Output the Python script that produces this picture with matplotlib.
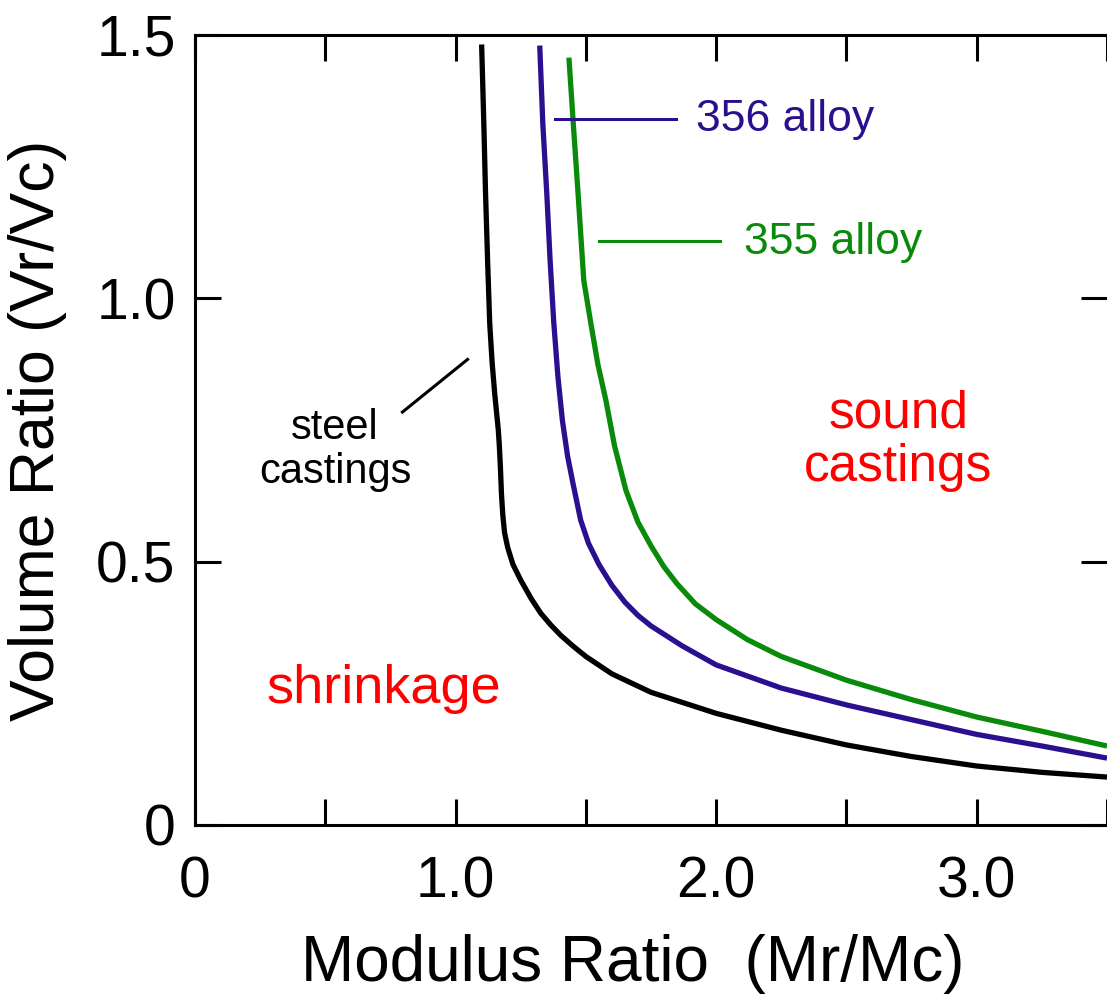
import matplotlib
matplotlib.use('Agg')
import matplotlib.pyplot as plt
from matplotlib.ticker import MultipleLocator, FixedLocator

plt.rcParams['font.family'] = ['Liberation Sans', 'DejaVu Sans']

# curve data
steel_x = [1.100, 1.108, 1.115, 1.123, 1.131, 1.140, 1.150, 1.158, 1.164, 1.168, 1.172,
           1.176, 1.181, 1.188, 1.200, 1.22, 1.25, 1.29, 1.327, 1.365, 1.404, 1.45,
           1.5, 1.6, 1.75, 2.0, 2.25, 2.5, 2.75, 3.0, 3.25, 3.5]
steel_y = [1.482, 1.34, 1.20, 1.07, 0.953, 0.88, 0.82, 0.78, 0.75, 0.72, 0.68,
           0.63, 0.59, 0.555, 0.527, 0.495, 0.465, 0.43, 0.402, 0.38, 0.36, 0.34,
           0.32, 0.287, 0.252, 0.212, 0.18, 0.152, 0.13, 0.112, 0.10, 0.091]

a356_x = [1.323, 1.335, 1.35, 1.363, 1.377, 1.393, 1.41, 1.43, 1.45, 1.48, 1.51, 1.55,
          1.60, 1.65, 1.70, 1.75, 1.87, 2.0, 2.25, 2.5, 2.75, 3.0, 3.25, 3.5]
a356_y = [1.48, 1.33, 1.20, 1.07, 0.953, 0.85, 0.768, 0.70, 0.65, 0.579, 0.535, 0.495,
          0.455, 0.423, 0.398, 0.378, 0.34, 0.304, 0.26, 0.228, 0.20, 0.172, 0.15, 0.127]

a355_x = [1.435, 1.452, 1.47, 1.492, 1.519, 1.546, 1.577, 1.61, 1.654, 1.70, 1.75, 1.80,
          1.85, 1.92, 2.0, 2.12, 2.25, 2.5, 2.75, 3.0, 3.25, 3.5]
a355_y = [1.457, 1.33, 1.20, 1.034, 0.953, 0.875, 0.806, 0.72, 0.635, 0.575, 0.53, 0.49,
          0.458, 0.42, 0.39, 0.352, 0.32, 0.275, 0.238, 0.205, 0.178, 0.150]

xticks_major = [0, 1.0, 2.0, 3.0]
xtick_labels = ['0', '1.0', '2.0', '3.0']
yticks = [0, 0.5, 1.0, 1.5]
ytick_labels = ['0', '0.5', '1.0', '1.5']

BLUE = '#2a0f8f'
GREEN = '#0a8a0a'
RED = '#ff0000'

fig = plt.figure(figsize=(11.07, 9.94), dpi=100)
ax = fig.add_axes([195 / 1107, 169 / 994, 912 / 1107, 790 / 994])

ax.plot(steel_x, steel_y, color='black', lw=3.8, solid_capstyle='butt')
ax.plot(a356_x, a356_y, color=BLUE, lw=3.8, solid_capstyle='butt')
ax.plot(a355_x, a355_y, color=GREEN, lw=3.8, solid_capstyle='butt')

# leader lines
ax.plot([1.381, 1.846], [1.340, 1.340], color=BLUE, lw=2.2)
ax.plot([1.55, 2.015], [1.108, 1.108], color=GREEN, lw=2.2)
ax.plot([0.796, 1.046], [0.784, 0.884], color='black', lw=2.2)

# labels
ax.text(1.923, 1.340, '356 alloy', color=BLUE, fontsize=32, va='center', ha='left')
ax.text(2.108, 1.106, '355 alloy', color=GREEN, fontsize=32, va='center', ha='left')
ax.text(0.538, 0.712, 'steel\ncastings', color='black', fontsize=30, ha='center',
        va='center', linespacing=1.1)
ax.text(2.70, 0.729, 'sound\ncastings', color=RED, fontsize=37, ha='center',
        va='center', linespacing=1.12)
ax.text(0.725, 0.2315, 'shrinkage', color=RED, fontsize=39, ha='center',
        va='baseline')

ax.set_xlim(0, 3.5)
ax.set_ylim(0, 1.5)
ax.xaxis.set_major_locator(FixedLocator(xticks_major))
ax.xaxis.set_minor_locator(MultipleLocator(0.5))
ax.set_xticklabels(xtick_labels)
ax.set_yticks(yticks)
ax.set_yticklabels(ytick_labels)

ax.spines['right'].set_visible(False)
for s in ['left', 'bottom', 'top']:
    ax.spines[s].set_linewidth(2.2)

ax.tick_params(which='both', direction='in', length=19, width=2.2,
               top=True, right=True, labelsize=41, pad=14)
ax.tick_params(axis='x', which='major', pad=22)

ax.set_xlabel('Modulus Ratio  (Mr/Mc)', fontsize=46)
ax.xaxis.set_label_coords(0.48, -0.138)
ax.set_ylabel('Volume Ratio (Vr/Vc)', fontsize=45)
ax.yaxis.set_label_coords(-0.14, 0.5)

fig.savefig('out.png', dpi=100)
